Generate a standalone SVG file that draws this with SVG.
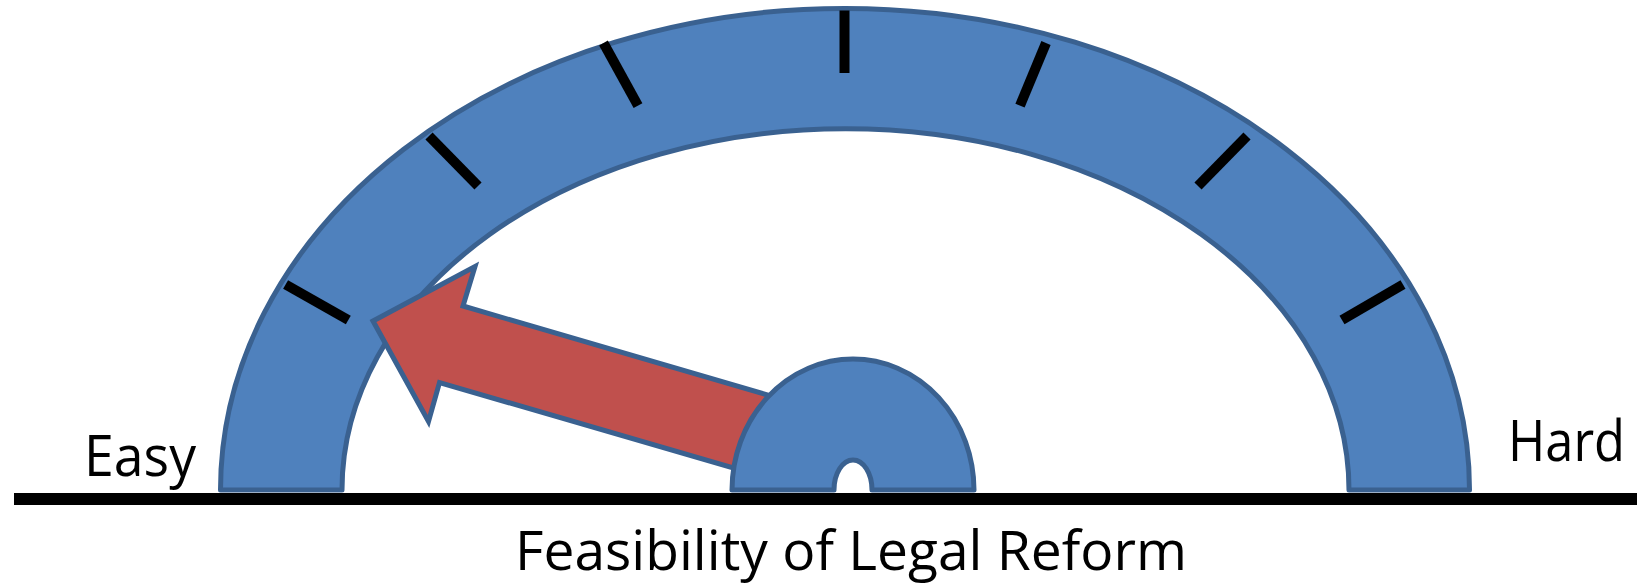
<svg xmlns="http://www.w3.org/2000/svg" width="1642" height="585" viewBox="0 0 1642 585">
<style>
.band{fill:#4F81BD;stroke:#3A6190;stroke-width:5;stroke-linejoin:round}
.needle{fill:#C0504D;stroke:#3A6190;stroke-width:5;stroke-linejoin:miter}
.tick{stroke:#000;stroke-width:10;stroke-linecap:butt}
.lbl{font-family:"Open Sans","Noto Sans","Liberation Sans",sans-serif;font-size:56px;fill:#000}
.ttl{font-size:54px}
</style>
<rect width="1642" height="585" fill="#fff"/>
<g id="gauge">
<path class="band" d="M 220.5 490 A 624.5 481.6 0 0 1 1469.5 490 L 1349 490 A 503.5 361.3 0 0 0 342 490 Z"/>
</g>
<g id="ticks">
<line class="tick" x1="285.6" y1="284.5" x2="348.3" y2="320"/>
<line class="tick" x1="429" y1="136" x2="478" y2="186"/>
<line class="tick" x1="603.5" y1="43" x2="638" y2="105.6"/>
<line class="tick" x1="844.5" y1="10.5" x2="844.5" y2="73"/>
<line class="tick" x1="1046" y1="43" x2="1020" y2="105.6"/>
<line class="tick" x1="1247" y1="136" x2="1198" y2="186"/>
<line class="tick" x1="1403" y1="284.5" x2="1342" y2="320"/>
</g>
<g id="connectors">
<g id="needle">
<polygon class="needle" points="373,321 475,266.5 463,306 795,403 795,486 439.5,382.5 428.5,421.5"/>
</g>
</g>
<g id="hub">
<path class="band" d="M 732 490 A 121 131 0 0 1 974 490 L 872 490 A 19 30 0 0 0 834 490 Z"/>
</g>
<g id="baseline">
<line x1="14" y1="499" x2="1637" y2="499" stroke="#000" stroke-width="12"/>
</g>
<g id="labels">
<text class="lbl" x="84" y="476" textLength="112" lengthAdjust="spacingAndGlyphs">Easy</text>
<text class="lbl" x="1508" y="461" textLength="117" lengthAdjust="spacingAndGlyphs">Hard</text>
<text class="lbl ttl" x="515" y="570" textLength="672" lengthAdjust="spacingAndGlyphs">Feasibility of Legal Reform</text>
</g>
</svg>
